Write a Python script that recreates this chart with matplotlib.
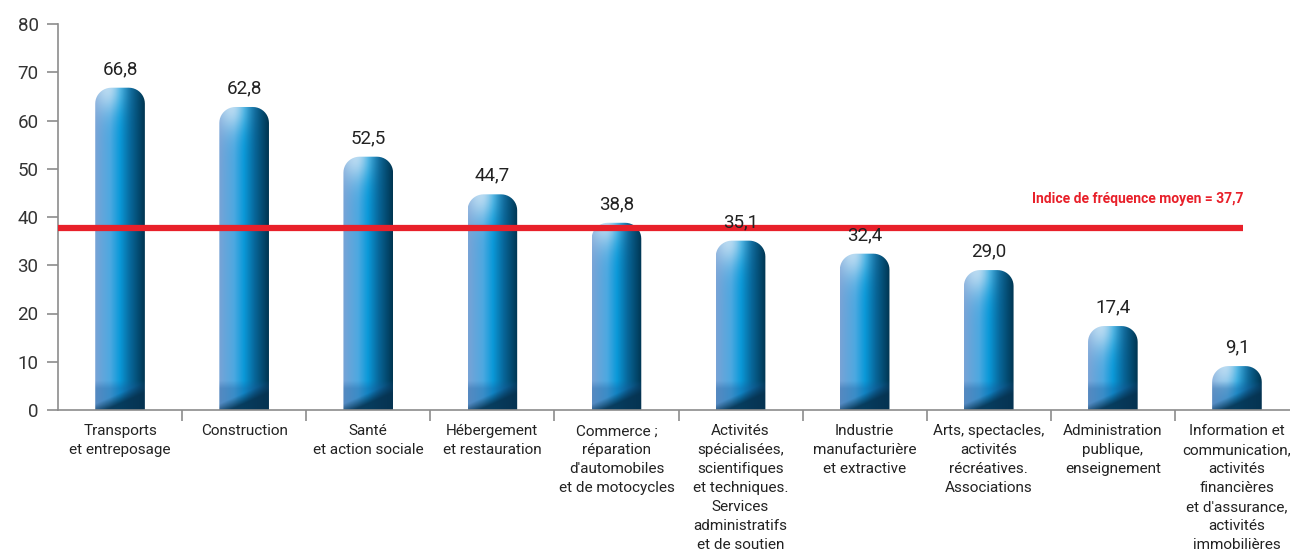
import numpy as np
import matplotlib
matplotlib.use("Agg")
import matplotlib.pyplot as plt
from matplotlib.path import Path
from matplotlib.patches import PathPatch

# ---------------------------------------------------------------------------
# data
# ---------------------------------------------------------------------------
categories = [
    "Transports\net entreposage",
    "Construction",
    "Santé\net action sociale",
    "Hébergement\net restauration",
    "Commerce ;\nréparation\nd'automobiles\net de motocycles",
    "Activités\nspécialisées,\nscientifiques\net techniques.\nServices\nadministratifs\net de soutien",
    "Industrie\nmanufacturière\net extractive",
    "Arts, spectacles,\nactivités\nrécréatives.\nAssociations",
    "Administration\npublique,\nenseignement",
    "Information et\ncommunication,\nactivités\nfinancières\net d'assurance,\nactivités\nimmobilières",
]
values = [66.8, 62.8, 52.5, 44.7, 38.8, 35.1, 32.4, 29.0, 17.4, 9.1]
mean_index = 37.7
mean_label = "Indice de fréquence moyen = 37,7"

plt.rcParams["font.family"] = ["Roboto", "DejaVu Sans"]

W, H = 1290, 554
fig = plt.figure(figsize=(W / 100, H / 100), dpi=100)
ax = fig.add_axes([58 / W, 144 / H, 1241 / W, 386 / H])

x = np.arange(len(values))
bw = 0.4
ax.set_xlim(-0.5, len(values) - 0.5)
ax.set_ylim(0, 80)

# horizontal colour stops for the cylinder look
stops_x = [0.0, 0.3, 0.5, 0.72, 1.0]
stops_c = np.array([
    [0.47, 0.64, 0.84],
    [0.30, 0.66, 0.88],
    [0.04, 0.60, 0.85],
    [0.03, 0.40, 0.60],
    [0.00, 0.21, 0.32],
])


def bar_image(v, ny=400, nx=64):
    xn = np.linspace(0, 1, nx)
    yv = np.linspace(0, v, ny)
    base = np.stack([np.interp(xn, stops_x, stops_c[:, k]) for k in range(3)], axis=-1)
    img = np.repeat(base[None, :, :], ny, axis=0)
    XX, YY = np.meshgrid(xn, yv)
    # glossy highlight near the top-left
    hl = 0.75 * np.exp(-((XX - 0.25) / 0.3) ** 2 - ((v - YY) / 5.0) ** 2)
    img = img * (1 - hl[..., None]) + np.array([0.85, 0.92, 0.97]) * hl[..., None]
    # soft band at the base: light tint, then a diagonal shadow
    band = np.clip((6.0 - YY) / 1.6, 0, 1) * 0.35
    img = img * (1 - band[..., None]) + np.array([0.10, 0.35, 0.60]) * band[..., None]
    thr = 1.2 + 4.5 * XX
    shade = np.clip((thr - YY) / 2.2, 0, 1) * 0.85
    dark = np.array([0.02, 0.19, 0.30])
    img = img * (1 - shade[..., None]) + dark * shade[..., None]
    return np.clip(img, 0, 1)


def rounded_top(x0, x1, v, rx, ry):
    t = np.linspace(0, np.pi / 2, 12)
    verts = [(x0, 0)]
    verts += [(x0 + rx - rx * np.cos(a), v - ry + ry * np.sin(a)) for a in t]
    verts += [(x1 - rx + rx * np.sin(a), v - ry + ry * np.cos(a)) for a in t]
    verts += [(x1, 0), (x0, 0)]
    codes = [Path.MOVETO] + [Path.LINETO] * (len(verts) - 2) + [Path.CLOSEPOLY]
    return Path(verts, codes)


rx, ry = 0.13, 3.3
for xi, v in zip(x, values):
    x0, x1 = xi - bw / 2, xi + bw / 2
    patch = PathPatch(rounded_top(x0, x1, v, min(rx, bw / 2), min(ry, v / 2)),
                      facecolor="none", edgecolor="none", transform=ax.transData)
    ax.add_patch(patch)
    im = ax.imshow(bar_image(v), origin="lower", extent=[x0, x1, 0, v],
                   aspect="auto", interpolation="bilinear", zorder=2)
    im.set_clip_path(patch)
    ax.text(xi, v + 2.0, f"{v:.1f}".replace(".", ","), ha="center", va="bottom",
            fontsize=13.5, color="#222222", zorder=4)

# average line
ax.plot([-0.5, 9.05], [mean_index, mean_index], color="#e8202a", lw=4.5,
        solid_capstyle="butt", zorder=3, clip_on=False)
ax.text(9.05, mean_index + 4.5, mean_label, ha="right", va="bottom",
        fontsize=10, fontweight="bold", color="#e8202a")

# axes styling
for s in ["top", "right"]:
    ax.spines[s].set_visible(False)
for s in ["left", "bottom"]:
    ax.spines[s].set_color("#8c8c8c")
    ax.spines[s].set_linewidth(1.2)

ax.set_yticks(range(0, 81, 10))
ax.tick_params(axis="y", length=8, width=1.2, color="#8c8c8c",
               labelsize=13.5, labelcolor="#333333", pad=6)

ax.set_xticks(np.arange(-0.5, len(values) - 0.5, 1.0)[1:])
ax.set_xticklabels([])
ax.tick_params(axis="x", length=8, width=1.2, color="#8c8c8c")

for xi, lab in zip(x, categories):
    ax.text(xi, -3.0, lab, ha="center", va="top", fontsize=11,
            color="#222222", linespacing=1.45)

fig.savefig("out.png", dpi=100)
